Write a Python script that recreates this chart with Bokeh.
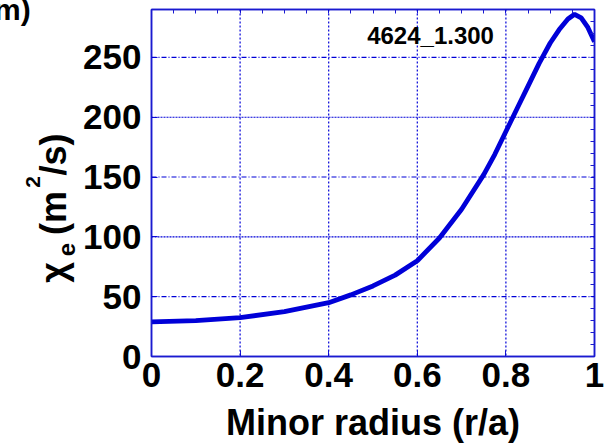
import math

from bokeh.core.properties import value
from bokeh.embed import file_html
from bokeh.layouts import column, row
from bokeh.models import Div, FixedTicker, Label, LinearAxis, Range1d, Span
from bokeh.plotting import figure
from bokeh.resources import INLINE

# Electron heat diffusivity profile vs normalised minor radius
r_over_a = [0.0, 0.1, 0.2, 0.3, 0.4, 0.45, 0.5, 0.55, 0.6, 0.65, 0.7,
            0.75, 0.775, 0.8, 0.825, 0.85, 0.875, 0.9, 0.92, 0.94,
            0.955, 0.97, 0.985, 1.0]
chi_e = [29, 30, 32.5, 37.5, 45, 51.5, 59, 68, 80, 99, 123,
         152, 169, 188, 207, 226, 245, 262, 273, 282,
         286, 283, 275, 263]

x_ticks = [0, 0.2, 0.4, 0.6, 0.8, 1.0]
x_tick_labels = ["0", "0.2", "0.4", "0.6", "0.8", "1"]
y_ticks = [0, 50, 100, 150, 200, 250]
x_label = "Minor radius (r/a)"
shot_label = "4624_1.300"
panel_tag = "m)"

BLUE = "#0000d8"
FRAME = "#1a1ad0"
FONT = "Liberation Sans"
LEFT_W = 80
TAG_H = 40
W, H = 605, 446

# ---- main panel ----------------------------------------------------------
p = figure(width=W - LEFT_W, height=H, output_backend="svg",
           toolbar_location=None, title=None,
           x_range=Range1d(0, 1), y_range=Range1d(0, 290),
           min_border_left=149 - LEFT_W, min_border_right=11,
           min_border_top=9, min_border_bottom=90)
p.background_fill_color = "white"
p.border_fill_color = "white"
p.outline_line_color = FRAME
p.outline_line_width = 1.5
p.grid.visible = False

# dotted grid lines at the major ticks
for xv in x_ticks[1:-1]:
    p.add_layout(Span(location=xv, dimension="height", line_color=BLUE,
                      line_width=1.2, line_dash="2 2"))
for yv in y_ticks[1:]:
    dash = "2 1" if yv % 100 == 0 else "5 2 1 2"
    p.add_layout(Span(location=yv, dimension="width", line_color=BLUE,
                      line_width=1.1, line_dash=dash))

p.line(r_over_a, chi_e, line_color=BLUE, line_width=4.8)


def style_axis(ax):
    ax.axis_line_color = FRAME
    ax.axis_line_width = 1.5
    ax.major_tick_line_color = FRAME
    ax.minor_tick_line_color = FRAME
    ax.major_tick_in = 6
    ax.major_tick_out = 0
    ax.minor_tick_in = 4
    ax.minor_tick_out = 0
    ax.major_label_text_font = FONT
    ax.major_label_text_font_style = "bold"
    ax.major_label_text_color = "black"
    ax.major_label_text_font_size = "35px"


xa = p.xaxis[0]
ya = p.yaxis[0]
xa.ticker = x_ticks
xa.ticker.num_minor_ticks = 4
xa.major_label_overrides = {t: s for t, s in zip(x_ticks, x_tick_labels)}
ya.ticker = y_ticks
ya.ticker.num_minor_ticks = 5
style_axis(xa)
style_axis(ya)
xa.major_label_standoff = 6
ya.major_label_standoff = 10
xa.axis_label = x_label
xa.axis_label_text_font = FONT
xa.axis_label_text_font_style = "bold"
xa.axis_label_text_font_size = "36px"
xa.axis_label_text_color = "black"
xa.axis_label_standoff = 12

# tick-only frame edges on top and right
x_minor = [i * 0.05 for i in range(21)]
y_minor = [i * 10 for i in range(29)]
top = LinearAxis(ticker=FixedTicker(ticks=[], minor_ticks=x_minor))
right = LinearAxis(ticker=FixedTicker(ticks=[], minor_ticks=y_minor))
for ax in (top, right):
    style_axis(ax)
    ax.major_label_standoff = 0
p.add_layout(top, "above")
p.add_layout(right, "right")

# shot / time tag
p.add_layout(Label(x=0.773, y=268.5, text=shot_label, text_align="right",
                   text_baseline="middle", text_font=FONT,
                   text_font_style="bold", text_font_size="24px",
                   text_color="black"))

# ---- left column: panel letter, then the y-axis title --------------------
tag = Div(text=panel_tag, width=LEFT_W, height=TAG_H, margin=0,
          styles={"font-family": FONT, "font-weight": "bold",
                  "font-size": "30px", "line-height": "20px",
                  "position": "relative", "left": "-6px",
                  "color": "black", "overflow": "visible"})

yt = figure(width=LEFT_W, height=H - TAG_H, output_backend="svg",
            toolbar_location=None, title=None, x_axis_location=None,
            y_axis_location=None, x_range=Range1d(0, LEFT_W),
            y_range=Range1d(0, H - TAG_H), min_border=0,
            min_border_left=0, min_border_right=0,
            min_border_top=0, min_border_bottom=0)
yt.outline_line_color = None
yt.grid.visible = False
yt.background_fill_color = "white"
yt.border_fill_color = "white"

# title pieces (rotated to read upwards): centre x, centre y, font size
ylab_text = ["\u03c7", "e", "(m", "2", "/s)"]
ylab_x = [52.5, 66, 52.5, 32.5, 52.5]
ylab_y = [174, 197, 233.5, 264.5, 292]
ylab_size = ["36px", "24px", "36px", "21px", "36px"]
for txt, xx, yy, fs in zip(ylab_text, ylab_x, ylab_y, ylab_size):
    yt.text(x=[xx], y=[yy], text=[txt], angle=math.pi / 2,
            text_align="center", text_baseline="middle",
            text_font=value(FONT), text_font_style="bold",
            text_font_size=fs, text_color="black")

layout = row(column(tag, yt, spacing=0), p, spacing=0)
open("out.html", "w").write(file_html(layout, INLINE))
